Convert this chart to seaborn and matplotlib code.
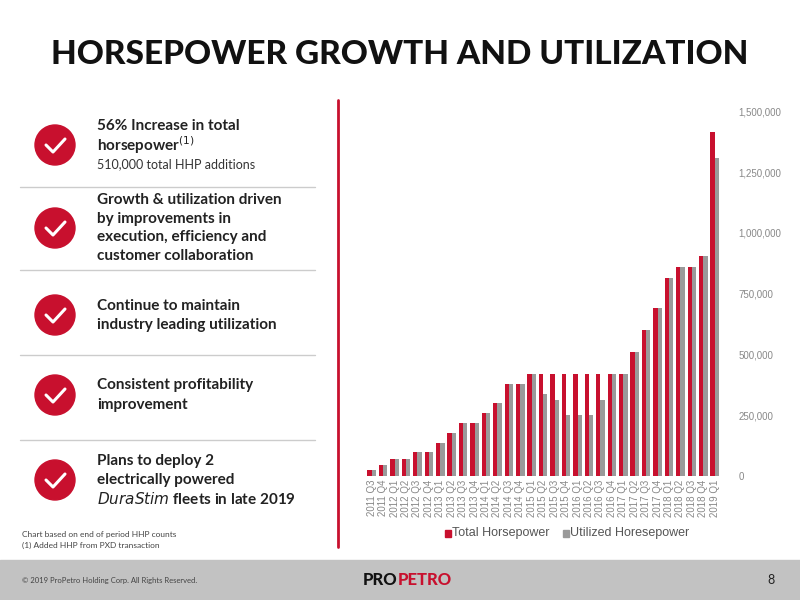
import matplotlib
matplotlib.use('Agg')
from matplotlib import pyplot as plt
from matplotlib.patches import Ellipse, Rectangle
from matplotlib.ticker import FuncFormatter
import seaborn as sns
import pandas as pd

quarters = ['2011 Q3', '2011 Q4', '2012 Q1', '2012 Q2', '2012 Q3', '2012 Q4',
            '2013 Q1', '2013 Q2', '2013 Q3', '2013 Q4', '2014 Q1', '2014 Q2',
            '2014 Q3', '2014 Q4', '2015 Q1', '2015 Q2', '2015 Q3', '2015 Q4',
            '2016 Q1', '2016 Q2', '2016 Q3', '2016 Q4', '2017 Q1', '2017 Q2',
            '2017 Q3', '2017 Q4', '2018 Q1', '2018 Q2', '2018 Q3', '2018 Q4',
            '2019 Q1']
total_hp = [22000, 45000, 71000, 71000, 96000, 96000, 137000, 177000, 217000,
            217000, 260000, 300000, 380000, 380000, 419000, 419000, 419000,
            419000, 419000, 419000, 419000, 419000, 419000, 509000, 601000,
            690000, 815000, 859000, 859000, 906000, 1416000]
utilized_hp = [22000, 45000, 71000, 71000, 96000, 96000, 137000, 177000, 217000,
               217000, 260000, 300000, 380000, 380000, 419000, 335000, 313000,
               252000, 252000, 252000, 313000, 419000, 419000, 509000, 601000,
               690000, 815000, 859000, 859000, 906000, 1309000]

df = pd.DataFrame({'quarter': quarters * 2,
                   'hp': total_hp + utilized_hp,
                   'series': ['Total Horsepower'] * len(quarters) + ['Utilized Horesepower'] * len(quarters)})

sns.set_style('white')
plt.rcParams['font.family'] = ['Lato', 'DejaVu Sans']

red = '#C8102E'
grey = '#9A9A9A'

fig = plt.figure(figsize=(8, 6), dpi=100)

# chart
ax = fig.add_axes([0.456, 0.207, 0.446, 0.607])
sns.barplot(data=df, x='quarter', y='hp', hue='series', palette=[red, grey],
            width=0.75, saturation=1, linewidth=0, ax=ax, legend=False)
ax.set_ylim(0, 1500000)
ax.set_xlim(-0.6, len(quarters) - 0.4)
ax.yaxis.tick_right()
ax.set_yticks(range(0, 1500001, 250000))
ax.yaxis.set_major_formatter(FuncFormatter(lambda v, p: f'{int(v):,}'))
ax.tick_params(axis='y', labelsize=7, colors='#888888', length=0, pad=12)
ax.tick_params(axis='x', labelsize=7, colors='#888888', length=0, rotation=90, pad=3)
for lab in ax.get_xticklabels() + ax.get_yticklabels():
    lab.set_family('Liberation Sans')
ax.set_xlabel('')
ax.set_ylabel('')
sns.despine(ax=ax, left=True, bottom=True, right=True, top=True)

# legend
fig.patches.append(Rectangle((445 / 800, 1 - 537 / 600), 6 / 800, 7 / 600, color=red, transform=fig.transFigure))
fig.text(452 / 800, 1 - 533 / 600, 'Total Horsepower', fontsize=9, color='#555555', va='center', family='Liberation Sans')
fig.patches.append(Rectangle((563 / 800, 1 - 537 / 600), 6 / 800, 7 / 600, color=grey, transform=fig.transFigure))
fig.text(570 / 800, 1 - 533 / 600, 'Utilized Horesepower', fontsize=9, color='#555555', va='center', family='Liberation Sans')

# title
fig.text(400 / 800, 1 - 55 / 600, 'HORSEPOWER GROWTH AND UTILIZATION', fontsize=24,
         weight='black', ha='center', va='center', color='#111111')

# red divider
fig.add_artist(plt.Line2D([338 / 800, 338 / 800], [1 - 100 / 600, 1 - 547 / 600], color=red, lw=2))

# left bullets
items = [
    (145, ['56% Increase in total', 'horsepower$^{(1)}$'], '510,000 total HHP additions'),
    (228, ['Growth & utilization driven', 'by improvements in', 'execution, efficiency and', 'customer collaboration'], None),
    (315, ['Continue to maintain', 'industry leading utilization'], None),
    (395, ['Consistent profitability', 'improvement'], None),
    (480, ['Plans to deploy 2', 'electrically powered', '$\\it{DuraStim}$ fleets in late 2019'], None),
]
for cy, lines, sub in items:
    fig.patches.append(Ellipse((55 / 800, 1 - cy / 600), 40 / 800, 40 / 600,
                               color=red, transform=fig.transFigure))
    fig.add_artist(plt.Line2D([46 / 800, 53 / 800, 65 / 800],
                              [1 - cy / 600, 1 - (cy + 7) / 600, 1 - (cy - 6) / 600],
                              color='white', lw=2.2))
    n = len(lines) + (1 if sub else 0)
    top = cy - (n - 1) * 19 / 2
    for i, t in enumerate(lines):
        fig.text(97 / 800, 1 - (top + i * 19) / 600, t, fontsize=11, weight='bold',
                 color='#222222', va='center')
    if sub:
        fig.text(97 / 800, 1 - (top + len(lines) * 19) / 600, sub, fontsize=9,
                 color='#333333', va='center')

for ly in [187, 270, 355, 440]:
    fig.add_artist(plt.Line2D([20 / 800, 315 / 800], [1 - ly / 600, 1 - ly / 600], color='#cccccc', lw=1))

fig.text(22 / 800, 1 - 535 / 600, 'Chart based on end of period HHP counts', fontsize=6, color='#444444', va='center')
fig.text(22 / 800, 1 - 545 / 600, '(1) Added HHP from PXD transaction', fontsize=6, color='#444444', va='center')

# footer
fig.patches.append(Rectangle((0, 0), 1, 40 / 600, color='#c2c2c2', transform=fig.transFigure, zorder=0))
fig.text(22 / 800, 20 / 600, '© 2019 ProPetro Holding Corp. All Rights Reserved.', fontsize=5.5, color='#444444', va='center')
fig.text(398 / 800, 20 / 600, 'PRO', fontsize=12, weight='black', color='#111111', va='center', ha='right')
fig.text(398 / 800, 20 / 600, 'PETRO', fontsize=12, weight='black', color=red, va='center', ha='left')
fig.text(775 / 800, 20 / 600, '8', fontsize=9, color='#222222', va='center', ha='right')

fig.savefig('out.png', dpi=100)
